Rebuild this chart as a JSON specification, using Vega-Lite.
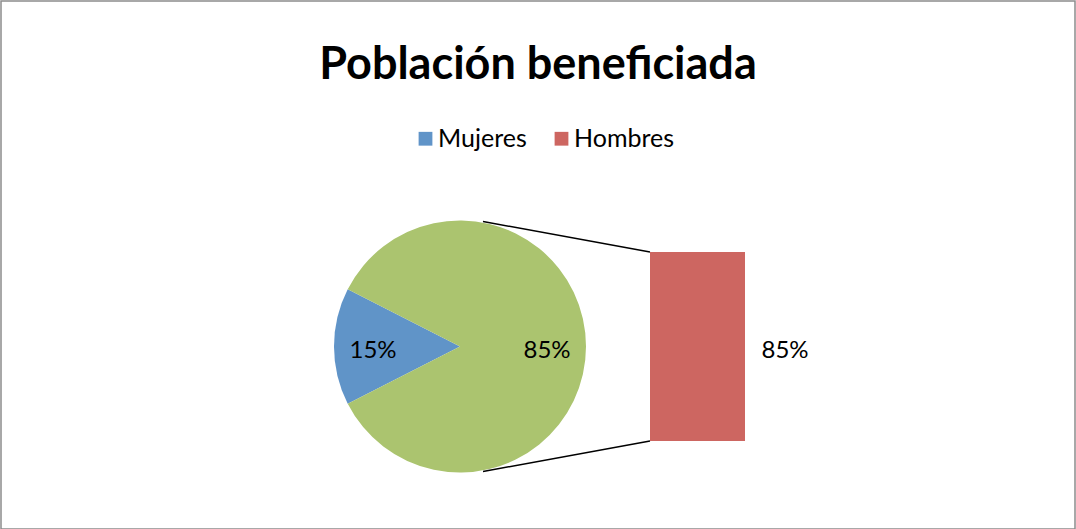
{
  "$schema": "https://vega.github.io/schema/vega-lite/v6.json",
  "width": 1074,
  "height": 528,
  "autosize": {"type": "none"},
  "padding": {"left": 1, "top": 1, "right": 1, "bottom": 0},
  "background": "white",
  "config": {
    "view": {"stroke": "#8c8c8c", "strokeWidth": 1.5},
    "font": "Lato",
    "legend": {
      "orient": "none", "legendX": 412, "legendY": 125, "direction": "horizontal",
      "symbolType": "square", "symbolSize": 190, "symbolStrokeWidth": 0,
      "labelFontSize": 25, "labelFont": "Lato", "labelColor": "black",
      "labelOffset": 0, "columnPadding": 22, "padding": 0
    }
  },
  "title": {
    "text": "Población beneficiada", "fontSize": 45, "fontWeight": "bold", "font": "Lato",
    "color": "black", "anchor": "middle", "frame": "group", "baseline": "alphabetic", "offset": -123
  },
  "datasets": {
    "circular": [
      {"serie": "Mujeres", "parte": "circular", "valor": 0.15},
      {"serie": "Otros", "parte": "circular", "valor": 0.85}
    ],
    "barra": [
      {"serie": "Hombres", "parte": "barra", "valor": 0.85}
    ]
  },
  "layer": [
    {
      "data": {"name": "circular"},
      "mark": {"type": "arc", "radius": 126},
      "encoding": {
        "theta": {"field": "valor", "type": "quantitative", "stack": true, "scale": {"range": [4.24115, 10.52434]}},
        "color": {
          "field": "serie", "type": "nominal",
          "scale": {"domain": ["Mujeres", "Hombres", "Otros"], "range": ["#6094C8", "#CD6661", "#ABC46F"]},
          "legend": {"title": null, "values": ["Mujeres", "Hombres"]}
        },
        "x": {"field": "parte", "type": "nominal", "axis": null, "scale": {"type": "point", "domain": ["circular", "barra"], "range": [459, 696.5], "padding": 0}},
        "y": {"datum": 0.425, "type": "quantitative", "axis": null, "scale": {"domain": [-0.3957, 1.9789], "zero": false, "nice": false}}
      }
    },
    {
      "data": {"name": "circular"},
      "mark": {"type": "text", "radius": 87, "fontSize": 24, "font": "Lato", "color": "black", "dy": 4},
      "encoding": {
        "theta": {"field": "valor", "type": "quantitative", "stack": true},
        "detail": {"field": "serie", "type": "nominal"},
        "x": {"field": "parte", "type": "nominal", "axis": null},
        "y": {"datum": 0.425, "type": "quantitative", "axis": null},
        "text": {"field": "valor", "type": "quantitative", "format": ".0%"}
      }
    },
    {
      "data": {"name": "barra"},
      "mark": {"type": "bar", "width": 95},
      "encoding": {
        "x": {"field": "parte", "type": "nominal", "axis": null},
        "y": {"field": "valor", "type": "quantitative", "axis": null},
        "color": {"field": "serie", "type": "nominal"}
      }
    },
    {
      "data": {"name": "barra"},
      "mark": {"type": "text", "fontSize": 24, "font": "Lato", "color": "black", "dx": 87.5, "yOffset": 98.5},
      "encoding": {
        "x": {"field": "parte", "type": "nominal", "axis": null},
        "y": {"field": "valor", "type": "quantitative", "axis": null},
        "text": {"field": "valor", "type": "quantitative", "format": ".0%"}
      }
    },
    {
      "data": {"name": "barra"},
      "mark": {"type": "rule", "color": "black", "strokeWidth": 1.5, "xOffset": 23, "yOffset": -125, "x2Offset": -47.5},
      "encoding": {
        "x": {"datum": "circular", "type": "nominal", "axis": null},
        "x2": {"datum": "barra"},
        "y": {"datum": 0.425, "type": "quantitative", "axis": null},
        "y2": {"datum": 0.85}
      }
    },
    {
      "data": {"name": "barra"},
      "mark": {"type": "rule", "color": "black", "strokeWidth": 1.5, "xOffset": 23, "yOffset": 125, "x2Offset": -47.5},
      "encoding": {
        "x": {"datum": "circular", "type": "nominal", "axis": null},
        "x2": {"datum": "barra"},
        "y": {"datum": 0.425, "type": "quantitative", "axis": null},
        "y2": {"datum": 0}
      }
    }
  ]
}
